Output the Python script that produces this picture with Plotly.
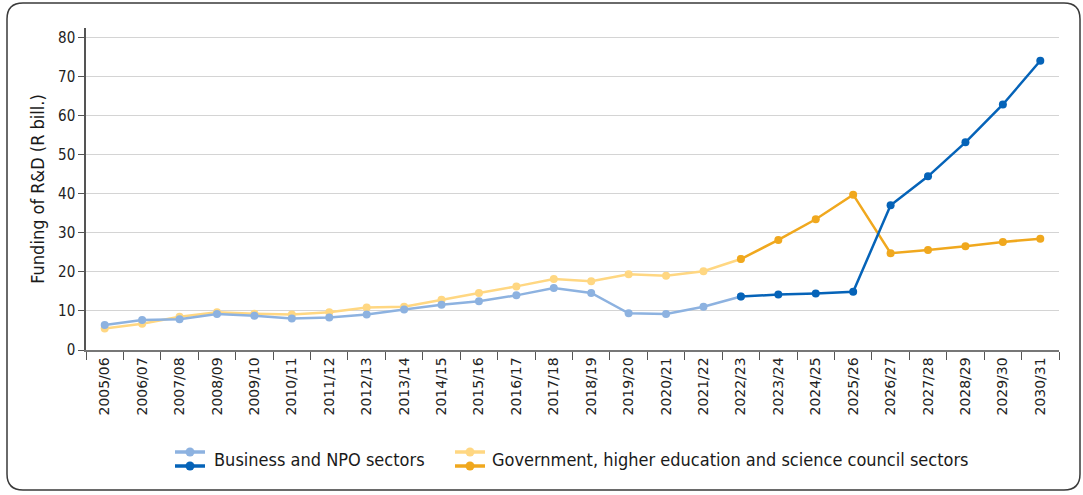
import plotly.graph_objects as go

categories = ["2005/06", "2006/07", "2007/08", "2008/09", "2009/10", "2010/11", "2011/12",
              "2012/13", "2013/14", "2014/15", "2015/16", "2016/17", "2017/18", "2018/19",
              "2019/20", "2020/21", "2021/22", "2022/23", "2023/24", "2024/25", "2025/26",
              "2026/27", "2027/28", "2028/29", "2029/30", "2030/31"]

# Business and NPO sectors
business_hist = [6.4, 7.7, 7.9, 9.2, 8.8, 8.1, 8.3, 9.1, 10.4, 11.6, 12.5, 14.0, 15.9,
                 14.6, 9.4, 9.25, 11.1, 13.7]
business_proj = [13.7, 14.2, 14.5, 14.9, 37.1, 44.5, 53.2, 62.9, 74.1]

# Government, higher education and science council sectors
gov_hist = [5.5, 6.75, 8.5, 9.7, 9.3, 9.1, 9.7, 10.9, 11.1, 12.9, 14.6, 16.3, 18.2,
            17.6, 19.4, 19.0, 20.2, 23.3]
gov_proj = [23.3, 28.2, 33.5, 39.8, 24.8, 25.6, 26.6, 27.7, 28.5]

legend_labels = ["Business and NPO sectors",
                 "Government, higher education and science council sectors"]

C_BLUE_L = "#8db2e0"
C_BLUE_D = "#0563b8"
C_YEL_L = "#ffd782"
C_YEL_D = "#f0a81e"

FONT = "DejaVu Sans Condensed, sans-serif"

W, H = 1083, 495
L, R, T, B = 86, 24, 28, 145
PW, PH = W - L - R, H - T - B

def px(x):
    return (x - L) / PW

def py(y):
    return (H - B - y) / PH

fig = go.Figure()

n_hist = len(business_hist)
proj_cats = categories[n_hist - 1:]
hist_cats = categories[:n_hist]

fig.add_trace(go.Scatter(x=hist_cats, y=gov_hist, mode="lines+markers",
                         line=dict(color=C_YEL_L, width=2.5), marker=dict(size=8, color=C_YEL_L),
                         showlegend=False))
fig.add_trace(go.Scatter(x=hist_cats, y=business_hist, mode="lines+markers",
                         line=dict(color=C_BLUE_L, width=2.5), marker=dict(size=8, color=C_BLUE_L),
                         showlegend=False))
fig.add_trace(go.Scatter(x=proj_cats, y=gov_proj, mode="lines+markers",
                         line=dict(color=C_YEL_D, width=2.5), marker=dict(size=8, color=C_YEL_D),
                         showlegend=False))
fig.add_trace(go.Scatter(x=proj_cats, y=business_proj, mode="lines+markers",
                         line=dict(color=C_BLUE_D, width=2.5), marker=dict(size=8, color=C_BLUE_D),
                         showlegend=False))

shapes = []
# rounded border
x0, x1, y0, y1, r = 7, 1080, 3, 490, 16
path = (f"M {px(x0 + r)},{py(y0)} L {px(x1 - r)},{py(y0)} "
        f"Q {px(x1)},{py(y0)} {px(x1)},{py(y0 + r)} "
        f"L {px(x1)},{py(y1 - r)} Q {px(x1)},{py(y1)} {px(x1 - r)},{py(y1)} "
        f"L {px(x0 + r)},{py(y1)} Q {px(x0)},{py(y1)} {px(x0)},{py(y1 - r)} "
        f"L {px(x0)},{py(y0 + r)} Q {px(x0)},{py(y0)} {px(x0 + r)},{py(y0)} Z")
shapes.append(dict(type="path", xref="paper", yref="paper", path=path,
                   line=dict(color="#3a3a3a", width=1.5), fillcolor="rgba(0,0,0,0)", layer="below"))

# custom legend symbols
def legend_symbol(xc, yc, color):
    shapes.append(dict(type="line", xref="paper", yref="paper",
                       x0=px(xc - 15), x1=px(xc + 15), y0=py(yc), y1=py(yc),
                       line=dict(color=color, width=3.5)))
    rr = 4.5
    shapes.append(dict(type="circle", xref="paper", yref="paper",
                       x0=px(xc - rr), x1=px(xc + rr), y0=py(yc + rr), y1=py(yc - rr),
                       fillcolor=color, line=dict(color=color, width=0)))

legend_symbol(190, 452, C_BLUE_L)
legend_symbol(190, 466, C_BLUE_D)
legend_symbol(470, 452, C_YEL_L)
legend_symbol(470, 466, C_YEL_D)

annotations = [
    dict(text=legend_labels[0], xref="paper", yref="paper", x=px(212), y=py(459),
         xanchor="left", yanchor="middle", showarrow=False,
         font=dict(family=FONT, size=18, color="#1a1a1a")),
    dict(text=legend_labels[1], xref="paper", yref="paper", x=px(490), y=py(459),
         xanchor="left", yanchor="middle", showarrow=False,
         font=dict(family=FONT, size=18, color="#1a1a1a")),
]

fig.update_layout(
    width=W, height=H,
    margin=dict(l=L, r=R, t=T, b=B),
    paper_bgcolor="white", plot_bgcolor="white",
    shapes=shapes, annotations=annotations,
    showlegend=False,
    xaxis=dict(type="category", categoryorder="array", categoryarray=categories,
               tickangle=-90, tickson="boundaries", ticks="outside", ticklen=8,
               tickcolor="#555555", showline=True, linecolor="#777777", linewidth=1.5,
               showgrid=False, tickfont=dict(family="DejaVu Sans, sans-serif", size=14, color="#222222"),
               range=[-0.5, len(categories) - 0.5]),
    yaxis=dict(range=[0, 82.5], tickvals=[0, 10, 20, 30, 40, 50, 60, 70, 80],
               ticks="outside", ticklen=6, tickcolor="#555555",
               showline=True, linecolor="#555555", linewidth=1.5,
               showgrid=True, gridcolor="#d4d4d4", gridwidth=1, zeroline=False,
               tickfont=dict(family=FONT, size=15, color="#222222"),
               title=dict(text="Funding of R&D (R bill.)", standoff=9,
                          font=dict(family=FONT, size=18, color="#1a1a1a"))),
)

fig.write_html("out.html", config={"displayModeBar": False},
               post_script="document.body.style.margin='0';")
